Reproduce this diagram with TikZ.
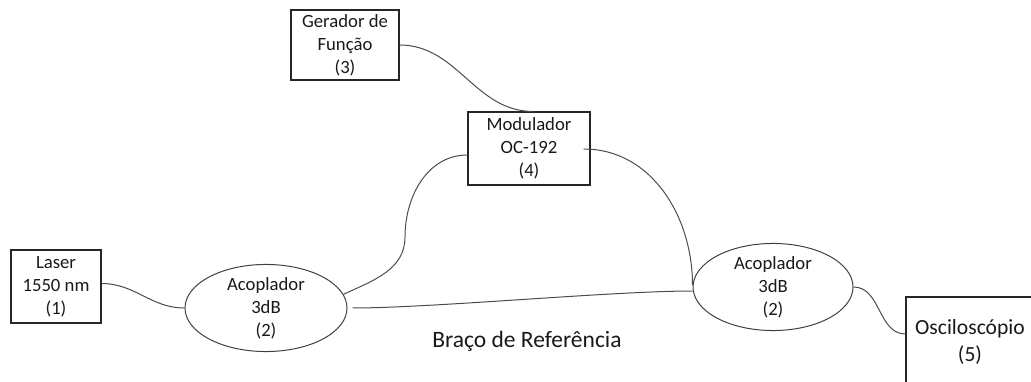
\documentclass[tikz,border=0pt]{standalone}
\usepackage{fontspec}
\setmainfont{Carlito}
\usetikzlibrary{shapes.geometric}
\begin{document}
\begin{tikzpicture}[x=1pt,y=-1pt,
  txt/.style={font=\fontsize{18.7}{23}\selectfont, align=center, text=black!90},
  boxnode/.style={txt, draw=black!85, line width=1.1pt, rectangle, inner sep=0pt},
  ellnode/.style={txt, draw=black!75, line width=1pt, ellipse, inner sep=0pt},
  fiber/.style={draw=black!70, line width=1pt}
]
\useasboundingbox (0,0) rectangle (1031,382);
\clip (0,0) rectangle (1031,382);

\node[boxnode, minimum width=90pt, minimum height=73pt] (laser) at (56,286.5) {Laser\\1550 nm\\(1)};
\node[boxnode, minimum width=108pt, minimum height=70pt] (gerador) at (345,45) {Gerador de\\Função\\(3)};
\node[boxnode, minimum width=122pt, minimum height=73pt] (mod) at (529,148.5) {Modulador\\OC-192\\(4)};
\node[ellnode, minimum width=162pt, minimum height=73pt] (a1) at (266,308) {Acoplador\\3dB\\(2)};
\node[ellnode, minimum width=160pt, minimum height=72pt] (a2) at (773,287) {Acoplador\\3dB\\(2)};
\node[boxnode, font=\fontsize{21.6}{27}\selectfont, minimum width=128pt, minimum height=89pt] (osc) at (970,341.5) {Osciloscópio\\(5)};
\node[txt, font=\fontsize{23.5}{28}\selectfont] (braco) at (527,341) {Braço de Referência};

\coordinate (k1) at (405,237);

\draw[fiber] ([yshift=3pt]laser.east) to[out=0,in=180] (a1.west);
\draw[fiber] (a1.10) to[out=25,in=-90] (k1) to[out=90,in=180] ([yshift=-6.5pt]mod.west);
\draw[fiber] ([xshift=5pt]a1.east) to[out=0,in=180,looseness=0.6] ([yshift=-4pt]a2.west);
\draw[fiber] ([xshift=-7pt,yshift=-0.5pt]mod.east) to[out=0,in=90] ([yshift=2pt]a2.west);
\draw[fiber] (gerador.east) to[out=0,in=180] ([xshift=4pt]mod.north);
\draw[fiber] (a2.east) to[out=0,in=180] ([yshift=7.5pt]osc.west);
\end{tikzpicture}
\end{document}
